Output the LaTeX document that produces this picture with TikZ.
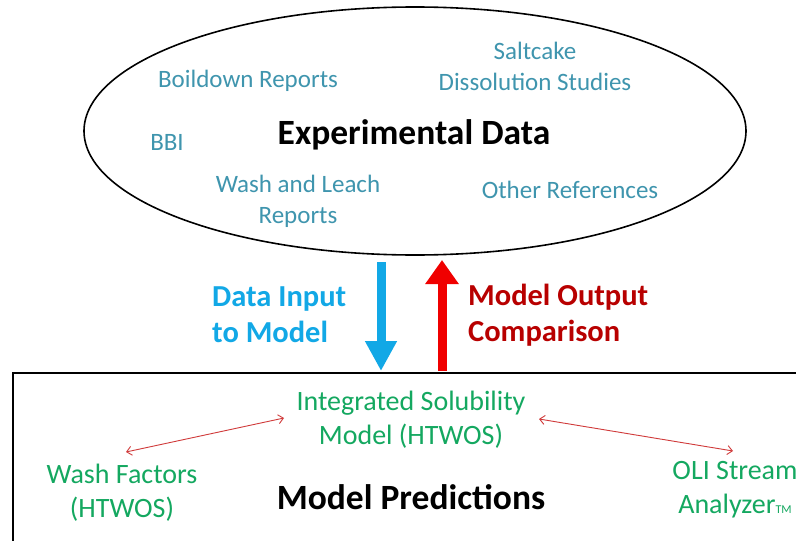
\documentclass[tikz,border=0pt]{standalone}
\usepackage{fontspec}
\setmainfont{Carlito}
\usetikzlibrary{shapes.geometric,arrows.meta}
\definecolor{tealtxt}{HTML}{3F95AE}
\definecolor{bluearr}{HTML}{12A8E6}
\definecolor{redarr}{HTML}{F00000}
\definecolor{darkred}{HTML}{B80000}
\definecolor{greentxt}{HTML}{14A860}
\definecolor{thinred}{HTML}{D03A3A}
\tikzset{
  src/.style={text=tealtxt, font=\fontsize{25}{31}\selectfont, align=center, inner sep=0pt},
  mdl/.style={text=greentxt, font=\fontsize{28}{34}\selectfont, align=center, inner sep=0pt},
  title/.style={font=\bfseries\fontsize{35.5}{40}\selectfont, inner sep=0pt},
  lbl/.style={font=\bfseries\fontsize{30.5}{36}\selectfont, align=left, inner sep=0pt, anchor=west},
  bigarrow/.style={line width=9pt},
  thinarr/.style={thinred, line width=0.9pt, {Straight Barb[length=5pt,width=9pt]}-{Straight Barb[length=5pt,width=9pt]}}
}
\begin{document}
\begin{tikzpicture}[x=1pt,y=-1pt]
\useasboundingbox (0,0) rectangle (796,541);
\clip (0,0) rectangle (796,541);
\fill[white] (0,0) rectangle (796,541);
% ellipse
\node[draw, ellipse, line width=1.6pt, minimum width=662pt, minimum height=248pt, inner sep=0pt] (exp) at (415,131) {};
\node[title] (exptitle) at (414,135) {Experimental Data};
\node[src] (boil) at (248,81) {Boildown Reports};
\node[src] (salt) at (535,66) {Saltcake\\Dissolution Studies};
\node[src] (bbi) at (167,142) {BBI};
\node[src] (wash) at (298,201) {Wash and Leach\\Reports};
\node[src] (other) at (570,190) {Other References};
% box
\node[draw, rectangle, line width=2pt, anchor=north west, minimum width=820pt, minimum height=200pt, inner sep=0pt] (pred) at (12,372) {};
% big arrows
\coordinate (btop) at (381,262);
\coordinate (bbot) at (381,371);
\coordinate (rbot) at (442,371);
\coordinate (rtop) at (442,260);
\draw[bigarrow, bluearr, -{Triangle[length=30pt,width=30pt]}] (btop) -- (bbot);
\draw[bigarrow, redarr, -{Triangle[length=24pt,width=32pt]}] (rbot) -- (rtop);
\node[lbl, text=bluearr] (din) at (212,315) {Data Input\\to Model};
\node[lbl, text=darkred] (mout) at (468,315) {Model Output\\Comparison};
% model box contents
\node[mdl] (ism) at (411,420) {Integrated Solubility\\Model (HTWOS)};
\node[mdl] (wf) at (122,493) {Wash Factors\\(HTWOS)};
\node[mdl] (oli) at (735,490) {OLI Stream\\Analyzer{\fontsize{12}{12}\selectfont TM}};
\node[title] (mp) at (411,497) {Model Predictions};
\coordinate (l1) at (126,452);
\coordinate (l2) at (284,418);
\coordinate (r1) at (539,419);
\coordinate (r2) at (733,451);
\draw[thinarr] (l1) -- (l2);
\draw[thinarr] (r1) -- (r2);
\end{tikzpicture}
\end{document}
